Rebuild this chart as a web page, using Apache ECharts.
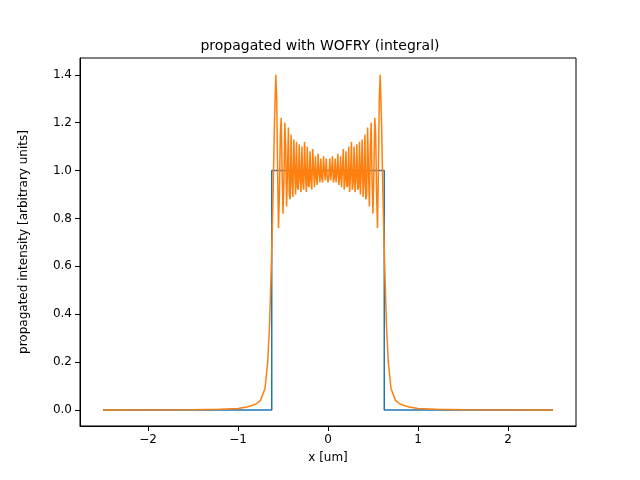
<!DOCTYPE html>
<html><head><meta charset="utf-8">
<script src="https://cdn.jsdelivr.net/npm/echarts@6/dist/echarts.min.js"></script>
<style>html,body{margin:0;background:#fff}#c{width:640px;height:480px}</style>
</head><body><div id="c"></div>
<script>
// blue: input slit profile
const slitX = [-2.5, -0.625, -0.625, 0.625, 0.625, 2.5];
const slitY = [0, 0, 1, 1, 0, 0];
// orange: left half of propagated intensity (x, y), mirrored for right half
const propHalfX = [-2.5, -1.5, -1.2, -1.0, -0.9, -0.8, -0.75, -0.7, -0.67, -0.65, -0.63, -0.61, -0.595, -0.58, -0.57,
  -0.56, -0.55, -0.54, -0.53, -0.52, -0.51, -0.5, -0.49, -0.48, -0.47, -0.46, -0.45, -0.44, -0.43, -0.42, -0.41,
  -0.4, -0.39, -0.38, -0.37, -0.36, -0.35, -0.34, -0.33, -0.32, -0.31, -0.3, -0.29, -0.28, -0.27, -0.26, -0.25,
  -0.24, -0.23, -0.22, -0.21, -0.2, -0.19, -0.18, -0.17, -0.16, -0.15, -0.14, -0.13, -0.12, -0.11, -0.1,
  -0.09, -0.08, -0.07, -0.06, -0.05, -0.04, -0.03, -0.02, -0.01];
const propHalfY = [0.0, 0.001, 0.003, 0.006, 0.012, 0.025, 0.04, 0.09, 0.2, 0.35, 0.6, 0.9, 1.2, 1.40, 1.3,
  1.0, 0.76, 0.9, 1.15, 1.22, 1.0, 0.82, 0.95, 1.2, 1.1, 0.85, 1.0, 1.18, 0.9, 0.88, 1.15,
  0.95, 0.89, 1.13, 1.0, 0.9, 1.12, 0.93, 0.92, 1.11, 0.97, 0.91, 1.1, 0.95, 0.92, 1.12, 0.98,
  0.91, 1.1, 0.94, 0.93, 1.08, 0.96, 0.92, 1.09, 1.0, 0.93, 1.06, 0.97, 0.94, 1.07, 0.99,
  0.95, 1.05, 0.97, 0.95, 1.06, 1.0, 0.96, 1.05, 0.98];
const propCenterY = 0.95;
const xTicks = [-2, -1, 0, 1, 2];
const yTicks = [0, 0.2, 0.4, 0.6, 0.8, 1.0, 1.2, 1.4];

const prop = propHalfX.map((x, i) => [x, propHalfY[i]]);
prop.push([0, propCenterY]);
for (let i = propHalfX.length - 1; i >= 0; i--) prop.push([-propHalfX[i], propHalfY[i]]);

const chart = echarts.init(document.getElementById('c'));
const font = 'DejaVu Sans';
chart.setOption({
  animation: false,
  title: {text: 'propagated with WOFRY (integral)', left: 'center', top: 34,
    textStyle: {fontFamily: font, fontSize: 14, fontWeight: 'normal', color: '#000'}},
  grid: {left: 80, right: 64, top: 58, bottom: 54},
  xAxis: {type: 'value', min: -2.756, max: 2.756,
    name: 'x [um]', nameLocation: 'middle', nameGap: 26,
    nameTextStyle: {fontFamily: font, fontSize: 12, color: '#000'},
    axisLine: {onZero: false, lineStyle: {color: '#000'}},
    axisTick: {customValues: xTicks, lineStyle: {color: '#000'}},
    splitLine: {show: false},
    axisLabel: {customValues: xTicks, fontFamily: font, fontSize: 12, color: '#000',
      formatter: v => v < 0 ? '\u2212' + (-v) : String(v)}},
  yAxis: {type: 'value', min: -0.067, max: 1.47,
    name: 'propagated intensity [arbitrary units]', nameLocation: 'middle', nameGap: 50,
    nameTextStyle: {fontFamily: font, fontSize: 12, color: '#000'},
    axisLine: {show: true, onZero: false, lineStyle: {color: '#000'}},
    axisTick: {show: true, customValues: yTicks, lineStyle: {color: '#000'}},
    splitLine: {show: false},
    axisLabel: {customValues: yTicks, fontFamily: font, fontSize: 12, color: '#000',
      formatter: v => v.toFixed(1)}},
  series: [
    {type: 'line', data: slitX.map((x, i) => [x, slitY[i]]), showSymbol: false,
      lineStyle: {color: '#1f77b4', width: 1.5}},
    {type: 'line', data: prop, showSymbol: false, lineStyle: {color: '#ff7f0e', width: 1.5}}
  ],
  graphic: [{type: 'rect', shape: {x: 80, y: 58, width: 496, height: 368},
    style: {fill: 'none', stroke: '#000', lineWidth: 1}, silent: true}]
});
</script></body></html>
